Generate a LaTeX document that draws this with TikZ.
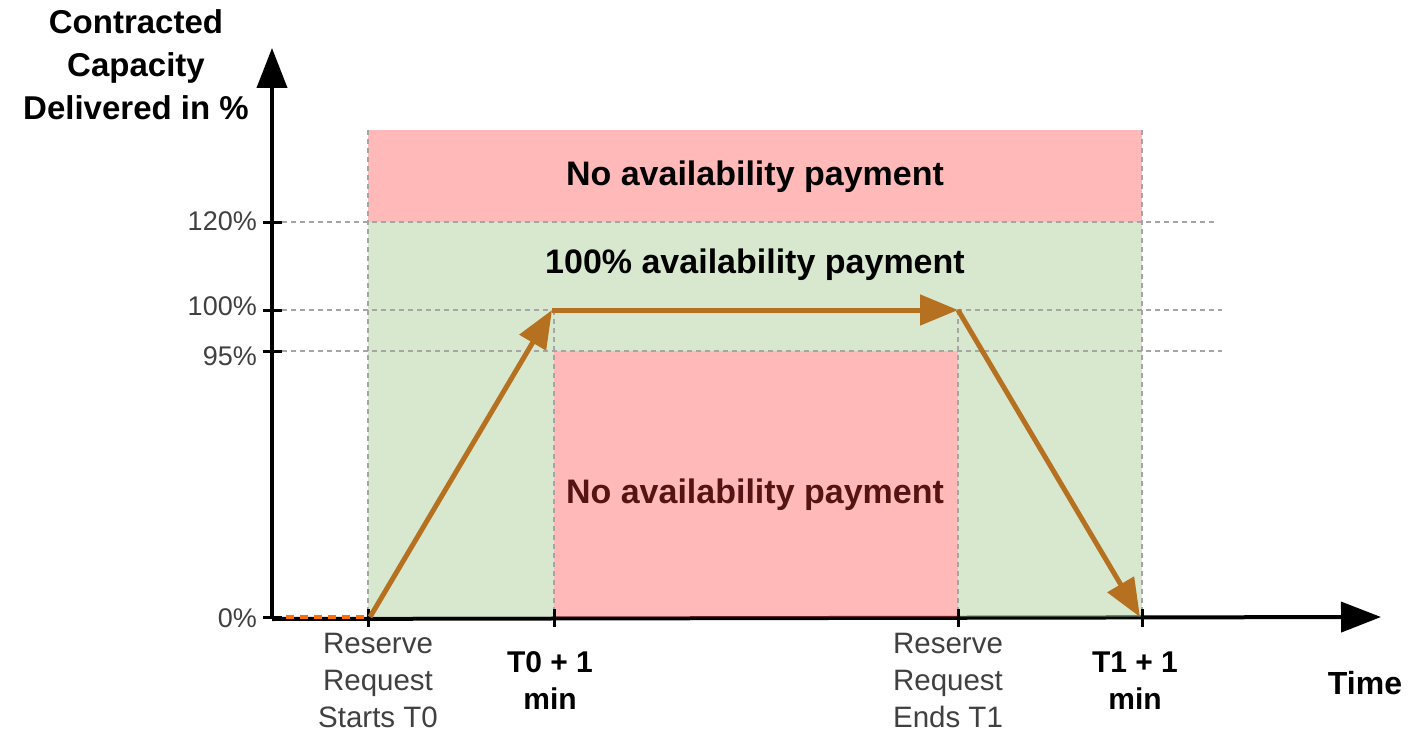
\documentclass[tikz,border=0pt]{standalone}
\usepackage{fontspec}
\setmainfont{Liberation Sans}
\usetikzlibrary{arrows.meta}
\definecolor{zonered}{RGB}{255,80,80}
\definecolor{zonegreen}{RGB}{158,198,133}
\definecolor{ramp}{RGB}{181,113,32}
\definecolor{guide}{RGB}{165,165,165}
\definecolor{labelgray}{RGB}{64,64,64}
\definecolor{darkredtext}{RGB}{85,20,20}
\tikzset{
  guideline/.style={guide, line width=1.6pt, dash pattern=on 5pt off 4pt},
  axisline/.style={black, line width=4pt, -{Triangle[length=40pt,width=30pt]}},
  rampline/.style={ramp, line width=5pt, -{Triangle[length=38pt,width=30pt]}},
  tickmark/.style={black, line width=3pt},
  ticklabel/.style={anchor=east, labelgray, font=\fontsize{27}{30}\selectfont, inner sep=0pt},
  timelabel/.style={align=center, labelgray, font=\fontsize{29.5}{37}\selectfont, inner sep=0pt},
  boldlabel/.style={align=center, black, font=\fontsize{30}{37}\selectfont\bfseries, inner sep=0pt},
  zonetext/.style={font=\fontsize{34}{40}\selectfont\bfseries, inner sep=0pt}
}
\begin{document}
\begin{tikzpicture}[x=1pt,y=-1pt]
\useasboundingbox (0,0) rectangle (1409,733);

% key positions
\coordinate (o) at (272,619);
\coordinate (xtip) at (1381,617);
\coordinate (ytip) at (272,48);
\coordinate (p0) at (370,617);
\coordinate (p1) at (552,310);
\coordinate (p2) at (958,310);
\coordinate (p3) at (1140,617);

% axes (drawn first so the coloured zones tint them)
\draw[axisline] (o) -- (xtip);
\draw[axisline] (o) -- (ytip);

% coloured zones
\fill[zonered, fill opacity=0.4] (368,130) rectangle (1142,222);
\fill[zonegreen, fill opacity=0.4] (368,222) rectangle (554,617);
\fill[zonegreen, fill opacity=0.4] (958,222) rectangle (1142,617);
\fill[zonegreen, fill opacity=0.4] (554,222) rectangle (958,351);
\fill[zonered, fill opacity=0.4] (554,351) rectangle (958,617);

% horizontal guides
\draw[guideline] (282,222) -- (1215,222);
\draw[guideline] (282,310) -- (1222,310);
\draw[guideline] (282,351) -- (1222,351);
% vertical guides
\draw[guideline] (368,130) -- (368,617);
\draw[guideline] (1142,130) -- (1142,617);
\draw[guideline] (554,310) -- (554,617);
\draw[guideline] (958,310) -- (958,617);

% dashed lead-in before the request starts
\draw[orange!85!red, line width=4pt, dash pattern=on 8pt off 6pt] (286,617) -- (368,617);

% ticks on the y axis
\foreach \yy in {222,310,351,617} \draw[tickmark] (263,\yy) -- (282,\yy);
% ticks on the x axis
\foreach \xx in {368,554,958,1142} \draw[tickmark] (\xx,609) -- (\xx,627);

% delivered capacity
\draw[rampline] (p0) -- (p1);
\draw[rampline] (p1) -- (p2);
\draw[rampline] (p2) -- (p3);

% zone captions
\node[zonetext] (nopayTop) at (755,177) {No availability payment};
\node[zonetext] (fullpay) at (755,265) {100\% availability payment};
\node[zonetext, darkredtext] (nopayLow) at (755,495) {No availability payment};

% y tick labels
\node[ticklabel] (l120) at (257,221) {120\%};
\node[ticklabel] (l100) at (257,306) {100\%};
\node[ticklabel] (l95) at (257,356) {95\%};
\node[ticklabel] (l0) at (257,618) {0\%};

% axis titles
\node[align=center, font=\fontsize{33}{43}\selectfont\bfseries, inner sep=0pt] (ytitle) at (136,65) {Contracted\\Capacity\\Delivered in \%};
\node[font=\fontsize{32}{36}\selectfont\bfseries, inner sep=0pt] (xtitle) at (1365,683) {Time};

% time labels
\node[timelabel] (t0) at (378,680) {Reserve\\Request\\Starts T0};
\node[boldlabel] (t0p) at (550,681) {T0 + 1\\min};
\node[timelabel] (t1) at (948,680) {Reserve\\Request\\Ends T1};
\node[boldlabel] (t1p) at (1135,681) {T1 + 1\\min};
\end{tikzpicture}
\end{document}
